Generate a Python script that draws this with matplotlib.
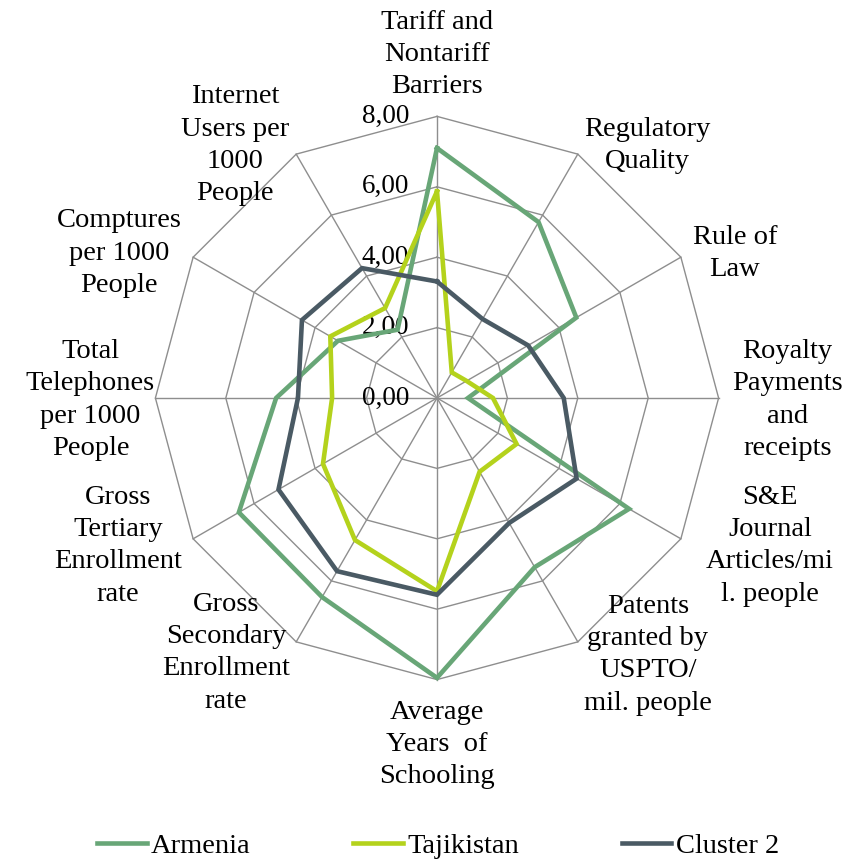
import numpy as np
import matplotlib.pyplot as plt

plt.rcParams['font.family'] = ['Liberation Serif', 'DejaVu Serif']

categories = [
    'Tariff and\nNontariff\nBarriers',
    'Regulatory\nQuality',
    'Rule of\nLaw',
    'Royalty\nPayments\nand\nreceipts',
    'S&E\nJournal\nArticles/mi\nl. people',
    'Patents\ngranted by\nUSPTO/\nmil. people',
    'Average\nYears  of\nSchooling',
    'Gross\nSecondary\nEnrollment\nrate',
    'Gross\nTertiary\nEnrollment\nrate',
    'Total\nTelephones\nper 1000\nPeople',
    'Comptures\nper 1000\nPeople',
    'Internet\nUsers per\n1000\nPeople',
]

armenia = [7.10, 5.77, 4.57, 0.88, 6.30, 5.55, 7.95, 6.53, 6.50, 4.57, 3.25, 2.24]
tajikistan = [5.87, 0.84, 0.97, 1.59, 2.61, 2.42, 5.49, 4.66, 3.74, 2.98, 3.50, 2.95]
cluster2 = [3.31, 2.59, 2.99, 3.60, 4.58, 4.10, 5.59, 5.68, 5.20, 3.95, 4.43, 4.26]

series_names = ['Armenia', 'Tajikistan', 'Cluster 2']
colors = ['#68a677', '#b4d21c', '#4a5a64']

ticks = [0, 2, 4, 6, 8]

# label offsets (pixels) from the end of each spoke
label_offsets = [(0, 62), (70, 9), (54, 4), (69, -2), (89, -7), (70, -13),
                 (0, -65), (-70, -11), (-75, -7), (-65, -2), (-74, 4), (-61, 9)]

n = len(categories)
angles = np.linspace(0, 2 * np.pi, n, endpoint=False)
closed = np.append(angles, angles[0])

fig = plt.figure(figsize=(8.45, 8.66), dpi=100)
W, H = 845, 866
cx, cy, R = 437, 398, 281.6
ax = fig.add_axes([(cx - R) / W, (H - cy - R) / H, 2 * R / W, 2 * R / H], polar=True)
ax.set_theta_zero_location('N')
ax.set_theta_direction(-1)
ax.set_ylim(0, 8)
ax.grid(False)
ax.spines['polar'].set_visible(False)
ax.set_xticks([])
ax.set_yticks([])
ax.patch.set_visible(False)

grid_color = '#8e8e8e'
for t in ticks[1:]:
    ax.plot(closed, [t] * (n + 1), color=grid_color, lw=1.0, clip_on=False, zorder=1)
for a in angles:
    ax.plot([a, a], [0, 8], color=grid_color, lw=1.0, clip_on=False, zorder=1)

for vals, name, c in zip([armenia, tajikistan, cluster2], series_names, colors):
    v = np.append(vals, vals[0])
    ax.plot(closed, v, color=c, lw=3.3, label=name, clip_on=False, zorder=3,
            solid_joinstyle='miter')

fs = 20.5
for t in ticks:
    ax.annotate(f'{t:.2f}'.replace('.', ','), xy=(0, t), xytext=(-28, 0),
                textcoords='offset pixels', ha='right', va='center',
                fontsize=19.5, zorder=2)

for a, lab, off in zip(angles, categories, label_offsets):
    ax.annotate(lab, xy=(a, 8), xytext=off, textcoords='offset pixels',
                ha='center', va='center', fontsize=fs, linespacing=1.38,
                multialignment='center')

fig.legend(loc='center', bbox_to_anchor=(438 / W, 1 - 846 / H), ncol=3,
           frameon=False, fontsize=fs, handlelength=1.75, handletextpad=0.15,
           columnspacing=3.6)

fig.savefig('out.png', dpi=100)
